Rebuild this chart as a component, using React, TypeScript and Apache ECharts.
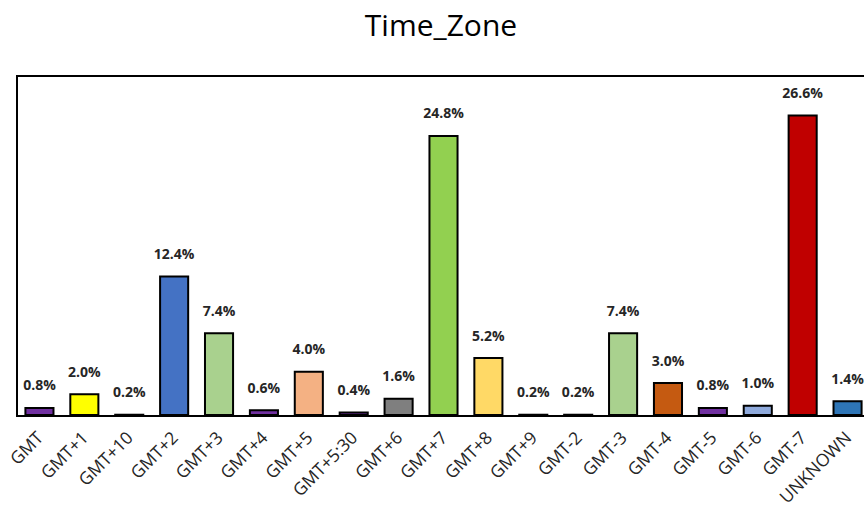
import React, { useEffect, useRef } from "react";
import * as echarts from "echarts";

const categories = ["GMT", "GMT+1", "GMT+10", "GMT+2", "GMT+3", "GMT+4", "GMT+5", "GMT+5:30", "GMT+6", "GMT+7", "GMT+8", "GMT+9", "GMT-2", "GMT-3", "GMT-4", "GMT-5", "GMT-6", "GMT-7", "UNKNOWN"];
const values = [0.8, 2.0, 0.2, 12.4, 7.4, 0.6, 4.0, 0.4, 1.6, 24.8, 5.2, 0.2, 0.2, 7.4, 3.0, 0.8, 1.0, 26.6, 1.4];
const colors = ["#7030A0", "#FFFF00", "#1a1a1a", "#4472C4", "#A9D18E", "#7030A0", "#F4B183", "#7030A0", "#7F7F7F", "#92D050", "#FFD966", "#1a1a1a", "#1a1a1a", "#A9D18E", "#C55A11", "#7030A0", "#8FAADC", "#C00000", "#2E75B6"];
const titleText = "Time_Zone";

export default function App() {
  const ref = useRef<HTMLDivElement>(null);
  useEffect(() => {
    const chart = echarts.init(ref.current!, null, { renderer: "svg" });
    chart.setOption({
      animation: false,
      graphic: [
        {
          type: "text",
          x: 441,
          y: 24,
          style: {
            text: titleText,
            fontFamily: "Open Sans",
            fontSize: 30,
            fill: "#000",
            textAlign: "center",
            textVerticalAlign: "middle",
          },
        },
      ],
      grid: {
        left: 17,
        top: 76,
        width: 853,
        height: 340,
        containLabel: false,
        outerBoundsMode: "none",
        show: true,
        borderColor: "#000",
        borderWidth: 2,
        backgroundColor: "transparent",
      },
      xAxis: {
        type: "category",
        data: categories,
        axisLine: { lineStyle: { color: "#000", width: 2 } },
        axisTick: { show: false },
        axisLabel: { rotate: 45, interval: 0, fontFamily: "Open Sans", fontSize: 17.5, color: "#262626", margin: 18 },
      },
      yAxis: { type: "value", min: 0, max: 30, show: false, splitLine: { show: false } },
      series: [
        {
          type: "bar",
          barWidth: "67%",
          data: values.map((v, i) => ({ value: v, itemStyle: { color: colors[i] } })),
          itemStyle: { borderColor: "#000", borderWidth: 2 },
          label: {
            show: true,
            position: "top",
            distance: 15,
            formatter: (p: any) => Number(p.value).toFixed(1) + "%",
            fontFamily: "Open Sans",
            fontSize: 14,
            fontWeight: "bold",
            color: "#262626",
          },
        },
      ],
    });
    return () => chart.dispose();
  }, []);
  return <div ref={ref} style={{ width: 864, height: 508, position: "absolute", left: 0, top: 0 }} />;
}
